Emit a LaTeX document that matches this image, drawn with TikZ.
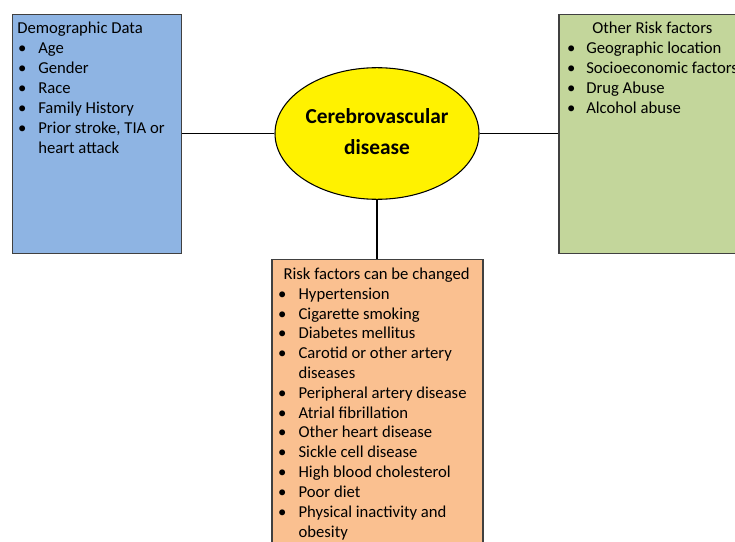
\documentclass[tikz,border=0pt]{standalone}
\usepackage{fontspec}
\setmainfont{Carlito}
\usetikzlibrary{shapes.geometric}
\definecolor{demoblue}{HTML}{8EB4E3}
\definecolor{othergreen}{HTML}{C3D69B}
\definecolor{riskorange}{HTML}{FAC090}
\definecolor{boxline}{HTML}{404040}
% bullet followed by a fixed indent
\newcommand{\itm}[1]{\makebox[#1][l]{\hspace{0.6pt}\textbullet}}
\tikzset{
  panel/.style={draw=boxline, line width=0.8pt, rectangle, inner sep=0pt},
  % multi-line text nodes are placed by the baseline of their last line
  listtext/.style={inner sep=0pt, anchor=base west, align=left,
                   font=\fontsize{12.5}{15}\selectfont},
  link/.style={draw=black, line width=0.8pt}
}
\begin{document}
\begin{tikzpicture}[x=0.75pt,y=-0.75pt]
\useasboundingbox (0,0) rectangle (735,542);
\clip (0,0) rectangle (735,542);

% three panels
\node[panel, fill=demoblue, minimum width=126.75pt, minimum height=179.25pt]
  (demo) at (96.75,133.6) {};
\node[panel, fill=othergreen, minimum width=139.5pt, minimum height=179.25pt]
  (other) at (652,133.6) {};
\node[panel, fill=riskorange, minimum width=158.25pt, minimum height=222pt]
  (risk) at (377.5,407.3) {};

% central ellipse
\node[ellipse, draw=black, line width=0.8pt, fill=yellow, inner sep=0pt,
      minimum width=153pt, minimum height=98.7pt] (cvd) at (377,133.5) {};
\node[inner sep=0pt, anchor=base, align=center,
      font=\fontsize{16}{23}\selectfont\bfseries] (cvdtext) at (377,154.5)
  {Cerebrovascular\\disease};

% connectors
\draw[link] (demo.east |- cvd.west) -- (cvd.west);
\draw[link] (cvd.east) -- (other.west |- cvd.east);
\draw[link] (cvd.south) -- (risk.north -| cvd.south);

% panel texts
\node[listtext] (demotext) at (17,153.5) {Demographic Data\\
  \itm{15.75pt}Age\\
  \itm{15.75pt}Gender\\
  \itm{15.75pt}Race\\
  \itm{15.75pt}Family History\\
  \itm{15.75pt}Prior stroke, TIA or\\
  \hspace*{15.75pt}heart attack};

\node[listtext] (othertext) at (566,113.5) {\hspace*{19.5pt}Other Risk factors\\
  \itm{15pt}Geographic location\\
  \itm{15pt}Socioeconomic factors\\
  \itm{15pt}Drug Abuse\\
  \itm{15pt}Alcohol abuse};

\node[listtext, font=\fontsize{12.5}{14.86}\selectfont] (risktext) at (277,537)
  {\hspace*{4.7pt}Risk factors can be changed\\
  \itm{16pt}Hypertension\\
  \itm{16pt}Cigarette smoking\\
  \itm{16pt}Diabetes mellitus\\
  \itm{16pt}Carotid or other artery\\
  \hspace*{16pt}diseases\\
  \itm{16pt}Peripheral artery disease\\
  \itm{16pt}Atrial fibrillation\\
  \itm{16pt}Other heart disease\\
  \itm{16pt}Sickle cell disease\\
  \itm{16pt}High blood cholesterol\\
  \itm{16pt}Poor diet\\
  \itm{16pt}Physical inactivity and\\
  \hspace*{16pt}obesity};
\end{tikzpicture}
\end{document}
